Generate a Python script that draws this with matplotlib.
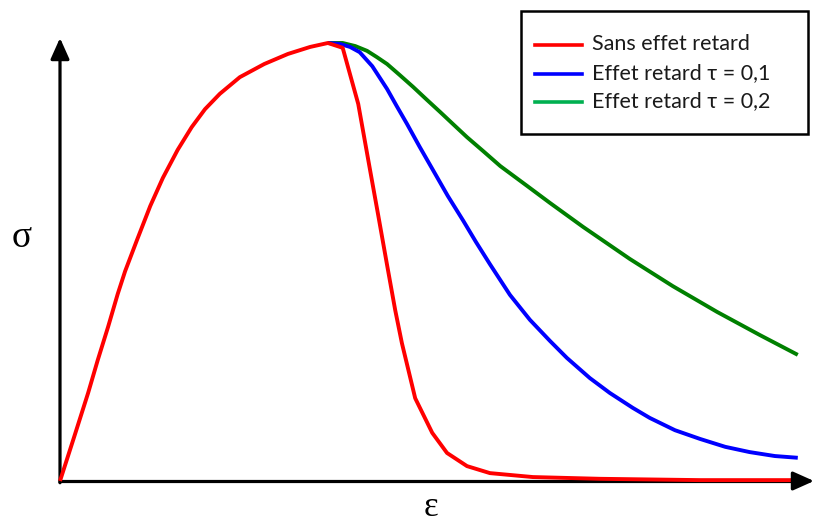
import matplotlib
matplotlib.use("Agg")
import matplotlib.pyplot as plt
from matplotlib.lines import Line2D
from matplotlib.patches import Rectangle

# ---- data (strain eps, stress sigma, normalised to the peak) ----
eps_red = [0.000, 0.019, 0.038, 0.051, 0.065, 0.078, 0.088, 0.104, 0.122, 0.139, 0.159,
           0.178, 0.196, 0.216, 0.243, 0.276, 0.308, 0.338, 0.362, 0.382, 0.403, 0.419,
           0.430, 0.442, 0.453, 0.462, 0.480, 0.503, 0.523, 0.550, 0.581, 0.639, 0.730,
           0.865, 0.996]
sig_red = [0.000, 0.100, 0.201, 0.276, 0.352, 0.427, 0.479, 0.550, 0.628, 0.692, 0.756,
           0.808, 0.849, 0.884, 0.922, 0.952, 0.975, 0.991, 1.000, 0.989, 0.861, 0.710,
           0.607, 0.493, 0.390, 0.315, 0.189, 0.110, 0.064, 0.034, 0.018, 0.009, 0.005,
           0.002, 0.002]

eps_blue = [0.362, 0.378, 0.392, 0.405, 0.422, 0.442, 0.455, 0.469, 0.486, 0.504, 0.524,
            0.545, 0.562, 0.581, 0.608, 0.635, 0.662, 0.685, 0.716, 0.743, 0.774, 0.797,
            0.831, 0.865, 0.899, 0.932, 0.966, 0.997]
sig_blue = [1.000, 0.998, 0.991, 0.979, 0.947, 0.895, 0.856, 0.815, 0.763, 0.710, 0.651,
            0.594, 0.546, 0.495, 0.425, 0.368, 0.320, 0.281, 0.235, 0.201, 0.167, 0.144,
            0.116, 0.096, 0.078, 0.066, 0.057, 0.053]

eps_green = [0.362, 0.382, 0.399, 0.415, 0.428, 0.442, 0.459, 0.477, 0.496, 0.514, 0.531,
             0.550, 0.572, 0.595, 0.631, 0.662, 0.707, 0.770, 0.828, 0.888, 0.946, 0.997]
sig_green = [1.000, 1.000, 0.993, 0.982, 0.968, 0.952, 0.927, 0.900, 0.870, 0.842, 0.815,
             0.785, 0.753, 0.719, 0.674, 0.635, 0.580, 0.507, 0.445, 0.386, 0.333, 0.288]

labels = ["Sans effet retard", "Effet retard \u03c4 = 0,1", "Effet retard \u03c4 = 0,2"]
curve_colors = ["#FF0000", "#0000FF", "#008000"]
legend_colors = ["#FF0000", "#0000FF", "#00B050"]

W, H = 815, 525
fig = plt.figure(figsize=(W / 100, H / 100), dpi=100)
x0, y0, x1, y1 = 60, 481, 800, 43
ax = fig.add_axes([x0 / W, 1 - y0 / H, (x1 - x0) / W, (y0 - y1) / H])
ax.set_xlim(0, 1)
ax.set_ylim(0, 1)
ax.axis("off")

# axes arrows
arrow = dict(arrowstyle="-|>,head_length=0.85,head_width=0.38", lw=2.3, color="black",
             mutation_scale=15, shrinkA=0, shrinkB=0)
ax.annotate("", xy=(0, (y0 - 38) / (y0 - y1)), xytext=(0, -0.004),
            xycoords="axes fraction", arrowprops=arrow, annotation_clip=False)
ax.plot([-0.003, 1.0], [0, 0], color="black", lw=2.3, clip_on=False, zorder=2,
        solid_capstyle="butt")
xa = ax.annotate("", xy=((814 - x0) / (x1 - x0), 0), xytext=(0.99, 0),
                 xycoords="axes fraction", arrowprops=arrow, annotation_clip=False)
xa.set_zorder(8)

for e, s, c, z in [(eps_green, sig_green, curve_colors[2], 4),
                   (eps_blue, sig_blue, curve_colors[1], 5),
                   (eps_red, sig_red, curve_colors[0], 6)]:
    ax.plot(e, s, color=c, lw=2.8, clip_on=False, zorder=z,
            solid_joinstyle="round", solid_capstyle="butt")

# axis labels
fig.text(22 / W, 1 - 238 / H, "\u03c3", family=["Liberation Serif", "DejaVu Serif"],
         fontsize=27, ha="center", va="center")
fig.text(431 / W, 1 - 507 / H, "\u03b5", family=["Liberation Serif", "DejaVu Serif"],
         fontsize=25, ha="center", va="center")

# legend (drawn manually)
fig.patches.append(Rectangle((521 / W, 1 - 134 / H), (808 - 521) / W, (134 - 11) / H,
                             transform=fig.transFigure, fill=False, edgecolor="black",
                             lw=1.8, figure=fig))
rows = [45, 74, 102]
for lab, c, yr in zip(labels, legend_colors, rows):
    fig.lines.append(Line2D([535 / W, 582 / W], [1 - yr / H, 1 - yr / H],
                            transform=fig.transFigure, color=c, lw=2.6, figure=fig))
    fig.text(592 / W, 1 - (yr - 1) / H, lab, family=["Lato", "DejaVu Sans"],
             fontsize=15.5, ha="left", va="center", color="#1a1a1a")

fig.savefig("out.png", dpi=100)
